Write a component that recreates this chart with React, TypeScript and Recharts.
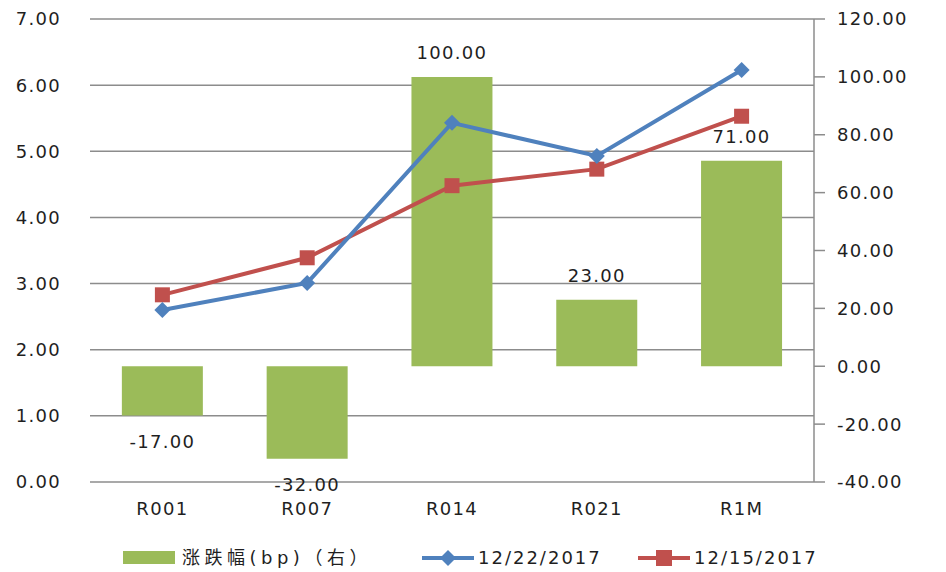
import { ComposedChart, Bar, Line, XAxis, YAxis, CartesianGrid, Legend, LabelList } from 'recharts'

const categories = ['R001', 'R007', 'R014', 'R021', 'R1M']
const changeBp = [-17, -32, 100, 23, 71]
const rate1222 = [2.6, 3.01, 5.43, 4.93, 6.23]
const rate1215 = [2.83, 3.39, 4.48, 4.73, 5.53]
const leftTicks = [0, 1, 2, 3, 4, 5, 6, 7]
const rightTicks = [-40, -20, 0, 20, 40, 60, 80, 100, 120]

const data = categories.map((name, i) => ({
  name,
  change: changeBp[i],
  d1222: rate1222[i],
  d1215: rate1215[i],
}))

const FONT = '"DejaVu Sans", "Noto Sans CJK SC", sans-serif'
const TEXT = '#1f1f1f'
const GREEN = '#9BBB59'
const BLUE = '#4F81BD'
const RED = '#C0504D'
const GRID = '#8c8c8c'

const tickStyle = { fontSize: 18, fill: TEXT, fontFamily: FONT, letterSpacing: 1.3 }

const BarLabel = (props: any) => {
  const { x, y, width, height, value } = props
  const top = Math.min(y, y + height)
  const bottom = Math.max(y, y + height)
  const cy = value >= 0 ? top - 24 : bottom + 26
  return (
    <text x={x + width / 2} y={cy} dy="0.35em" textAnchor="middle" fontSize={18} fill={TEXT} fontFamily={FONT} letterSpacing={1.3}>
      {Number(value).toFixed(2)}
    </text>
  )
}

const Diamond = (props: any) => {
  const { cx, cy } = props
  if (cx == null || cy == null) return null
  const r = 8
  return <polygon points={`${cx},${cy - r} ${cx + r},${cy} ${cx},${cy + r} ${cx - r},${cy}`} fill={BLUE} />
}

const Square = (props: any) => {
  const { cx, cy } = props
  if (cx == null || cy == null) return null
  return <rect x={cx - 7.5} y={cy - 7.5} width={15} height={15} fill={RED} />
}

const legendText = { fontSize: 18, color: TEXT, fontFamily: FONT, letterSpacing: 2, position: 'absolute' as const, top: 0, lineHeight: '24px', whiteSpace: 'nowrap' as const }

const CustomLegend = () => (
  <div style={{ position: 'relative', height: 24, width: 946 }}>
    <div style={{ position: 'absolute', left: 123, top: 5, width: 52, height: 13, background: GREEN }} />
    <span style={{ ...legendText, left: 182, letterSpacing: 4.5 }}>涨跌幅(bp)（右）</span>
    <svg style={{ position: 'absolute', left: 420, top: 0 }} width={56} height={24}>
      <line x1={2} y1={12} x2={54} y2={12} stroke={BLUE} strokeWidth={4} />
      <polygon points="28,4 36,12 28,20 20,12" fill={BLUE} />
    </svg>
    <span style={{ ...legendText, left: 478 }}>12/22/2017</span>
    <svg style={{ position: 'absolute', left: 636, top: 0 }} width={56} height={24}>
      <line x1={2} y1={12} x2={54} y2={12} stroke={RED} strokeWidth={4} />
      <rect x={20} y={4} width={16} height={16} fill={RED} />
    </svg>
    <span style={{ ...legendText, left: 694 }}>12/15/2017</span>
  </div>
)

export default function App() {
  return (
    <div style={{ position: 'absolute', left: 0, top: 0, background: '#fff' }}>
      <ComposedChart width={946} height={572} data={data} margin={{ top: 19, right: 0, bottom: 0, left: 0 }} barCategoryGap="22%">
        <CartesianGrid yAxisId="left" vertical={false} stroke={GRID} strokeWidth={1.5} />
        <XAxis
          dataKey="name"
          axisLine={false}
          tickLine={false}
          tickSize={0}
          tickMargin={20}
          height={66}
          tick={tickStyle}
          interval={0}
        />
        <YAxis
          yAxisId="left"
          orientation="left"
          domain={[0, 7]}
          ticks={leftTicks}
          tickFormatter={(v: number) => v.toFixed(2)}
          axisLine={false}
          tickLine={false}
          tickSize={0}
          tickMargin={29}
          width={90}
          tick={tickStyle}
        />
        <YAxis
          yAxisId="right"
          orientation="right"
          domain={[-40, 120]}
          ticks={rightTicks}
          tickFormatter={(v: number) => v.toFixed(2)}
          axisLine={{ stroke: GRID, strokeWidth: 1.5 }}
          tickLine={{ stroke: GRID, strokeWidth: 1.5 }}
          tickSize={11}
          tickMargin={12}
          width={132}
          tick={tickStyle}
        />
        <Legend content={<CustomLegend />} wrapperStyle={{ top: 546, left: 0, bottom: 'auto', width: 946 }} />
        <Bar yAxisId="right" dataKey="change" fill={GREEN} isAnimationActive={false}>
          <LabelList dataKey="change" content={<BarLabel />} />
        </Bar>
        <Line yAxisId="left" dataKey="d1215" stroke={RED} strokeWidth={4} dot={<Square />} activeDot={false} isAnimationActive={false} />
        <Line yAxisId="left" dataKey="d1222" stroke={BLUE} strokeWidth={4} dot={<Diamond />} activeDot={false} isAnimationActive={false} />
      </ComposedChart>
    </div>
  )
}
